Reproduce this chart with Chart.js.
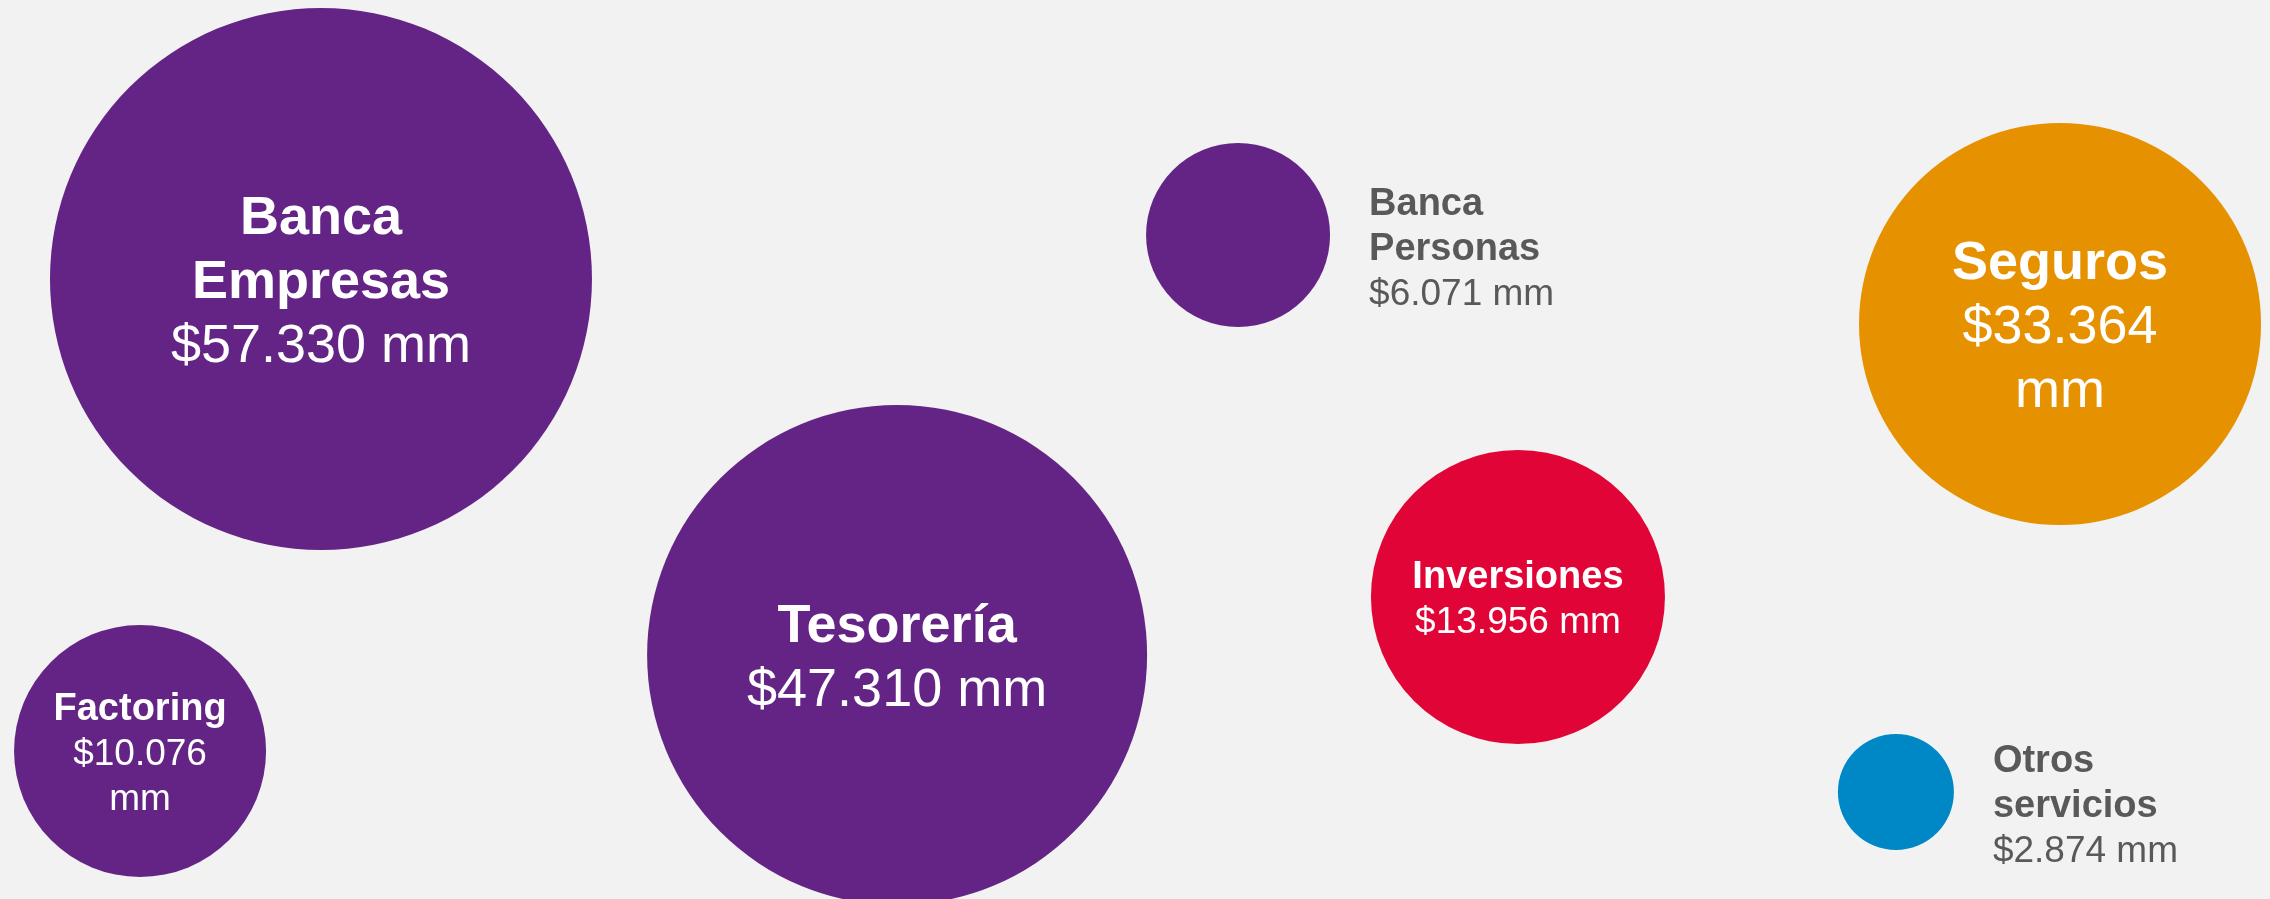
<!DOCTYPE html>
<html>
<head>
<meta charset="utf-8">
<script src="https://cdn.jsdelivr.net/npm/chart.js@4.4.1/dist/chart.umd.min.js"></script>
<style>
  html, body { margin: 0; padding: 0; background: #F2F2F2; }
  #wrap { position: relative; width: 2270px; height: 899px; }
</style>
</head>
<body>
<div id="wrap"><canvas id="c"></canvas></div>
<script>
// ---- Data ----
const categories = ['Banca Empresas', 'Tesorería', 'Factoring', 'Banca Personas', 'Inversiones', 'Seguros', 'Otros servicios'];
const values = [57330, 47310, 10076, 6071, 13956, 33364, 2874];        // $ mm
const posX = [14.14, 39.52, 6.17, 54.54, 66.87, 90.75, 83.52];           // layout position (0-100)
const posY = [31.03, 72.86, 83.54, 26.14, 66.41, 36.04, 88.10];          // layout position (0-100, top = 0)
const bubbleRadius = [271, 250, 126, 92, 147, 201, 58];                  // bubble size as drawn
const colors = ['#642485', '#642485', '#642485', '#642485', '#E10537', '#E69100', '#0088C6'];
const nameLines = [['Banca', 'Empresas'], ['Tesorería'], ['Factoring'], ['Banca', 'Personas'], ['Inversiones'], ['Seguros'], ['Otros', 'servicios']];
const labelInside = [true, true, true, false, true, true, false];
const wrapUnit = [false, false, true, false, false, true, false];

function fmt(v) {
  return '$' + String(v).replace(/\B(?=(\d{3})+(?!\d))/g, '.');
}

const points = categories.map((c, i) => ({ x: posX[i], y: posY[i], r: bubbleRadius[i] }));

const labelPlugin = {
  id: 'bubbleLabels',
  afterDatasetsDraw(chart) {
    const ctx = chart.ctx;
    const meta = chart.getDatasetMeta(0);
    meta.data.forEach((el, i) => {
      const r = bubbleRadius[i];
      const big = r >= 190;
      const size = big ? 54 : 38;
      const valSize = big ? 54 : 37;
      const lh = big ? 64 : 45;
      const valLines = wrapUnit[i] ? [fmt(values[i]), 'mm'] : [fmt(values[i]) + ' mm'];
      const lines = nameLines[i].map(t => ({ t, bold: true })).concat(valLines.map(t => ({ t, bold: false })));
      const n = lines.length;
      const capH = 0.716 * size;
      let cx, cy, align;
      if (labelInside[i]) {
        cx = el.x; cy = el.y; align = 'center';
      } else {
        cx = el.x + r + 39; cy = el.y + 11; align = 'left';
      }
      ctx.save();
      ctx.textAlign = align;
      ctx.textBaseline = 'alphabetic';
      ctx.fillStyle = labelInside[i] ? '#FFFFFF' : '#595959';
      lines.forEach((ln, k) => {
        const midY = cy + (k - (n - 1) / 2) * lh;
        ctx.font = (ln.bold ? 'bold ' + size : valSize) + 'px "Liberation Sans", Arial, sans-serif';
        ctx.fillText(ln.t, cx, midY + capH / 2);
      });
      ctx.restore();
    });
  }
};

new Chart(document.getElementById('c'), {
  type: 'bubble',
  data: {
    labels: categories,
    datasets: [{
      data: points,
      backgroundColor: colors,
      borderWidth: 0,
      hoverBorderWidth: 0,
      clip: false
    }]
  },
  options: {
    responsive: true,
    maintainAspectRatio: false,
    animation: false,
    layout: { padding: 0, autoPadding: false },
    plugins: { legend: { display: false }, tooltip: { enabled: false } },
    scales: {
      x: { type: 'linear', min: 0, max: 100, display: false },
      y: { type: 'linear', min: 0, max: 100, reverse: true, display: false }
    }
  },
  plugins: [labelPlugin]
});
</script>
</body>
</html>
